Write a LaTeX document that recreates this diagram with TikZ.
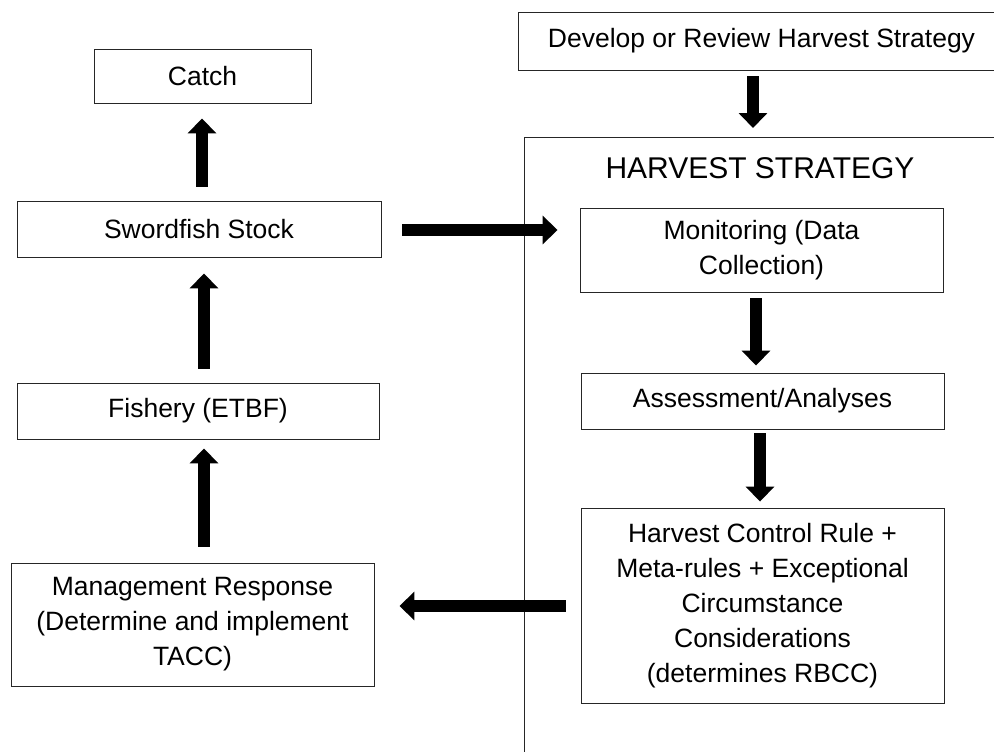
\documentclass[tikz,border=0pt]{standalone}
\usepackage{fontspec}
\setmainfont{Liberation Sans}
\usetikzlibrary{arrows.meta}
\begin{document}
\begin{tikzpicture}[x=1pt,y=-1pt,
  box/.style={draw=black!85, line width=0.9pt, align=center, inner sep=0pt,
    font=\fontsize{26.5}{35}\selectfont, text=black},
  blk/.style={line width=12pt, -{Triangle[width=28pt,length=15pt]}}]
\useasboundingbox (0,0) rectangle (994,752);
\clip (0,0) rectangle (994,752);

% left column: fishery loop
\node[box, minimum width=217pt, minimum height=54pt] (catch) at (202.5,76) {Catch};
\node[box, minimum width=364pt, minimum height=56pt] (sword) at (199,229) {Swordfish Stock};
\node[box, minimum width=362pt, minimum height=56pt] (fishery) at (198,411) {Fishery (ETBF)};
\node[box, minimum width=363pt, minimum height=123pt] (mgmt) at (192.5,624.5)
  {Management Response\\(Determine and implement\\TACC)};

% right column: harvest strategy
\node[box, minimum width=487pt, minimum height=58pt] (develop) at (761.5,41)
  {Develop or Review Harvest Strategy};
\node[draw=black!85, line width=0.9pt, minimum width=520pt, minimum height=640pt,
  inner sep=0pt, anchor=north west] (hs) at (524,137) {};
\node[font=\fontsize{30}{36}\selectfont, anchor=base] (hshead) at (760,178) {HARVEST STRATEGY};
\node[box, minimum width=363pt, minimum height=84pt] (mon) at (761.5,250)
  {Monitoring (Data\\Collection)};
\node[box, minimum width=363pt, minimum height=56pt] (assess) at (762.5,401)
  {Assessment/Analyses};
\node[box, minimum width=363pt, minimum height=195pt] (hcr) at (762.5,605.5)
  {Harvest Control Rule +\\Meta-rules + Exceptional\\Circumstance\\Considerations\\(determines RBCC)};

% arrow lanes
\coordinate (colA) at (753,0);
\coordinate (colB) at (202,0);
\coordinate (colC) at (204,0);
\coordinate (colD) at (756,0);
\coordinate (colE) at (760,0);
\coordinate (rowA) at (0,230);
\coordinate (rowB) at (0,606);

% block arrows
\draw[blk, shorten <=6pt, shorten >=9pt] (develop.south -| colA) -- (hs.north -| colA);
\draw[blk, shorten <=14pt, shorten >=15pt] (sword.north -| colB) -- (catch.south -| colB);
\draw[blk, shorten <=14pt, shorten >=16pt] (fishery.north -| colC) -- (sword.south -| colC);
\draw[blk, shorten <=16pt, shorten >=9pt] (mgmt.north -| colC) -- (fishery.south -| colC);
\draw[blk, shorten <=21pt, shorten >=22pt] (sword.east |- rowA) -- (mon.west |- rowA);
\draw[blk, shorten <=6pt, shorten >=7pt] (mon.south -| colD) -- (assess.north -| colD);
\draw[blk, shorten <=4pt, shorten >=6pt] (assess.south -| colE) -- (hcr.north -| colE);
\draw[blk, shorten <=15pt, shorten >=25pt] (hcr.west |- rowB) -- (mgmt.east |- rowB);
\end{tikzpicture}
\end{document}
